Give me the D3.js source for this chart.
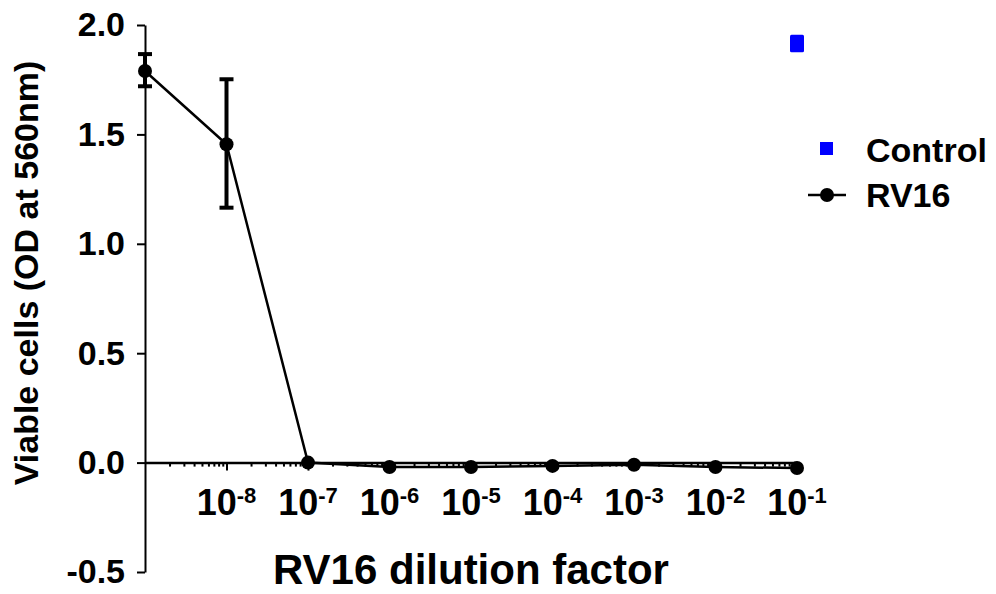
<!DOCTYPE html>
<html>
<head>
<meta charset="utf-8">
<script src="https://cdn.jsdelivr.net/npm/d3@7"></script>
<style>
  body { margin: 0; background: #fff; }
  svg { display: block; }
  text { font-family: "Liberation Sans", Arial, sans-serif; font-weight: bold; fill: #000; }
</style>
</head>
<body>
<svg id="chart" width="996" height="594"></svg>
<script>
// data
var dilutions = [1e-9, 1e-8, 1e-7, 1e-6, 1e-5, 1e-4, 1e-3, 1e-2, 1e-1];
var rv16Mean = [1.79, 1.455, 0.0, -0.02, -0.02, -0.015, -0.01, -0.02, -0.025];
var rv16Low  = [1.72, 1.165, 0.0, -0.02, -0.02, -0.015, -0.01, -0.02, -0.025];
var rv16High = [1.867, 1.752, 0.0, -0.02, -0.02, -0.015, -0.01, -0.02, -0.025];

var controlDilution = [1e-1];
var controlMean = [1.915];
var controlLow = [1.875];
var controlHigh = [1.955];

var yTicks = [-0.5, 0, 0.5, 1.0, 1.5, 2.0];
var xTicks = [1e-8, 1e-7, 1e-6, 1e-5, 1e-4, 1e-3, 1e-2, 1e-1];
var xTickExp = ["-8", "-7", "-6", "-5", "-4", "-3", "-2", "-1"];

var svg = d3.select("#chart");

// scales
var x = d3.scaleLog().domain([1e-9, 1e-1]).range([145, 797]);
var y = d3.scaleLinear().domain([-0.5, 2.0]).range([572, 25]);

// y axis
var yAxis = svg.append("g")
  .attr("transform", "translate(145,0)")
  .call(d3.axisLeft(y).tickValues(yTicks).tickSize(8).tickSizeOuter(0).tickPadding(12)
    .tickFormat(function(d) { return d.toFixed(1); }));
yAxis.select(".domain").attr("stroke-width", 2);
yAxis.selectAll(".tick line").attr("stroke-width", 2);
yAxis.selectAll(".tick text").attr("font-size", "34px").attr("font-family", null);

// minor ticks on x axis
var minorTicks = [];
for (var e = -9; e < -1; e++) {
  for (var k = 2; k <= 9; k++) minorTicks.push(k * Math.pow(10, e));
}
var xMinor = svg.append("g")
  .attr("transform", "translate(0," + y(0) + ")")
  .call(d3.axisBottom(x).tickValues(minorTicks).tickSize(4).tickSizeOuter(0).tickFormat(""));
xMinor.selectAll(".tick line").attr("stroke-width", 2);
xMinor.select(".domain").attr("stroke-width", 2.5);

// major ticks on x axis
var xAxis = svg.append("g")
  .attr("transform", "translate(0," + y(0) + ")")
  .call(d3.axisBottom(x).tickValues(xTicks).tickSize(8).tickSizeOuter(0).tickFormat(""));
xAxis.select(".domain").remove();
xAxis.selectAll(".tick line").attr("stroke-width", 2);

// x tick labels as 10 with superscript
var xLab = svg.append("g");
xTicks.forEach(function(t, i) {
  var txt = xLab.append("text")
    .attr("x", x(t))
    .attr("y", 515)
    .attr("text-anchor", "middle");
  txt.append("tspan").attr("font-size", "36px").text("10");
  txt.append("tspan").attr("font-size", "22px").attr("dy", -12).text(xTickExp[i]);
});

// axis titles
svg.append("text")
  .attr("x", 471)
  .attr("y", 584)
  .attr("text-anchor", "middle")
  .attr("font-size", "42px")
  .text("RV16 dilution factor");

svg.append("text")
  .attr("transform", "translate(38,273) rotate(-90)")
  .attr("text-anchor", "middle")
  .attr("font-size", "34px")
  .text("Viable cells (OD at 560nm)");

// RV16 line
var line = d3.line()
  .x(function(d, i) { return x(dilutions[i]); })
  .y(function(d) { return y(d); });

svg.append("path")
  .datum(rv16Mean)
  .attr("d", line)
  .attr("fill", "none")
  .attr("stroke", "#000")
  .attr("stroke-width", 2.5);

// RV16 error bars
var eb = svg.append("g").attr("stroke", "#000").attr("stroke-width", 4);
dilutions.forEach(function(d, i) {
  if (rv16High[i] === rv16Low[i]) return;
  var cx = x(d);
  eb.append("line").attr("x1", cx).attr("x2", cx).attr("y1", y(rv16Low[i])).attr("y2", y(rv16High[i]));
  eb.append("line").attr("x1", cx - 7).attr("x2", cx + 7).attr("y1", y(rv16Low[i])).attr("y2", y(rv16Low[i]));
  eb.append("line").attr("x1", cx - 7).attr("x2", cx + 7).attr("y1", y(rv16High[i])).attr("y2", y(rv16High[i]));
});

// RV16 markers
svg.selectAll(".rv16dot")
  .data(rv16Mean)
  .enter().append("circle")
  .attr("class", "rv16dot")
  .attr("cx", function(d, i) { return x(dilutions[i]); })
  .attr("cy", function(d) { return y(d); })
  .attr("r", 7)
  .attr("fill", "#000");

// Control marker with its error range
controlMean.forEach(function(m, i) {
  var cx = x(controlDilution[i]);
  svg.append("rect")
    .attr("x", cx - 7)
    .attr("y", y(controlHigh[i]))
    .attr("width", 14)
    .attr("height", y(controlLow[i]) - y(controlHigh[i]))
    .attr("rx", 1.5)
    .attr("fill", "#0000ff");
});

// legend
var leg = svg.append("g");
leg.append("rect")
  .attr("x", 820).attr("y", 142)
  .attr("width", 13).attr("height", 13)
  .attr("fill", "#0000ff");
leg.append("text")
  .attr("x", 866).attr("y", 162)
  .attr("font-size", "34px")
  .text("Control");
leg.append("line")
  .attr("x1", 808).attr("x2", 846)
  .attr("y1", 195).attr("y2", 195)
  .attr("stroke", "#000").attr("stroke-width", 2.5);
leg.append("circle")
  .attr("cx", 827).attr("cy", 195).attr("r", 7)
  .attr("fill", "#000");
leg.append("text")
  .attr("x", 866).attr("y", 207)
  .attr("font-size", "34px")
  .text("RV16");
</script>
</body>
</html>
